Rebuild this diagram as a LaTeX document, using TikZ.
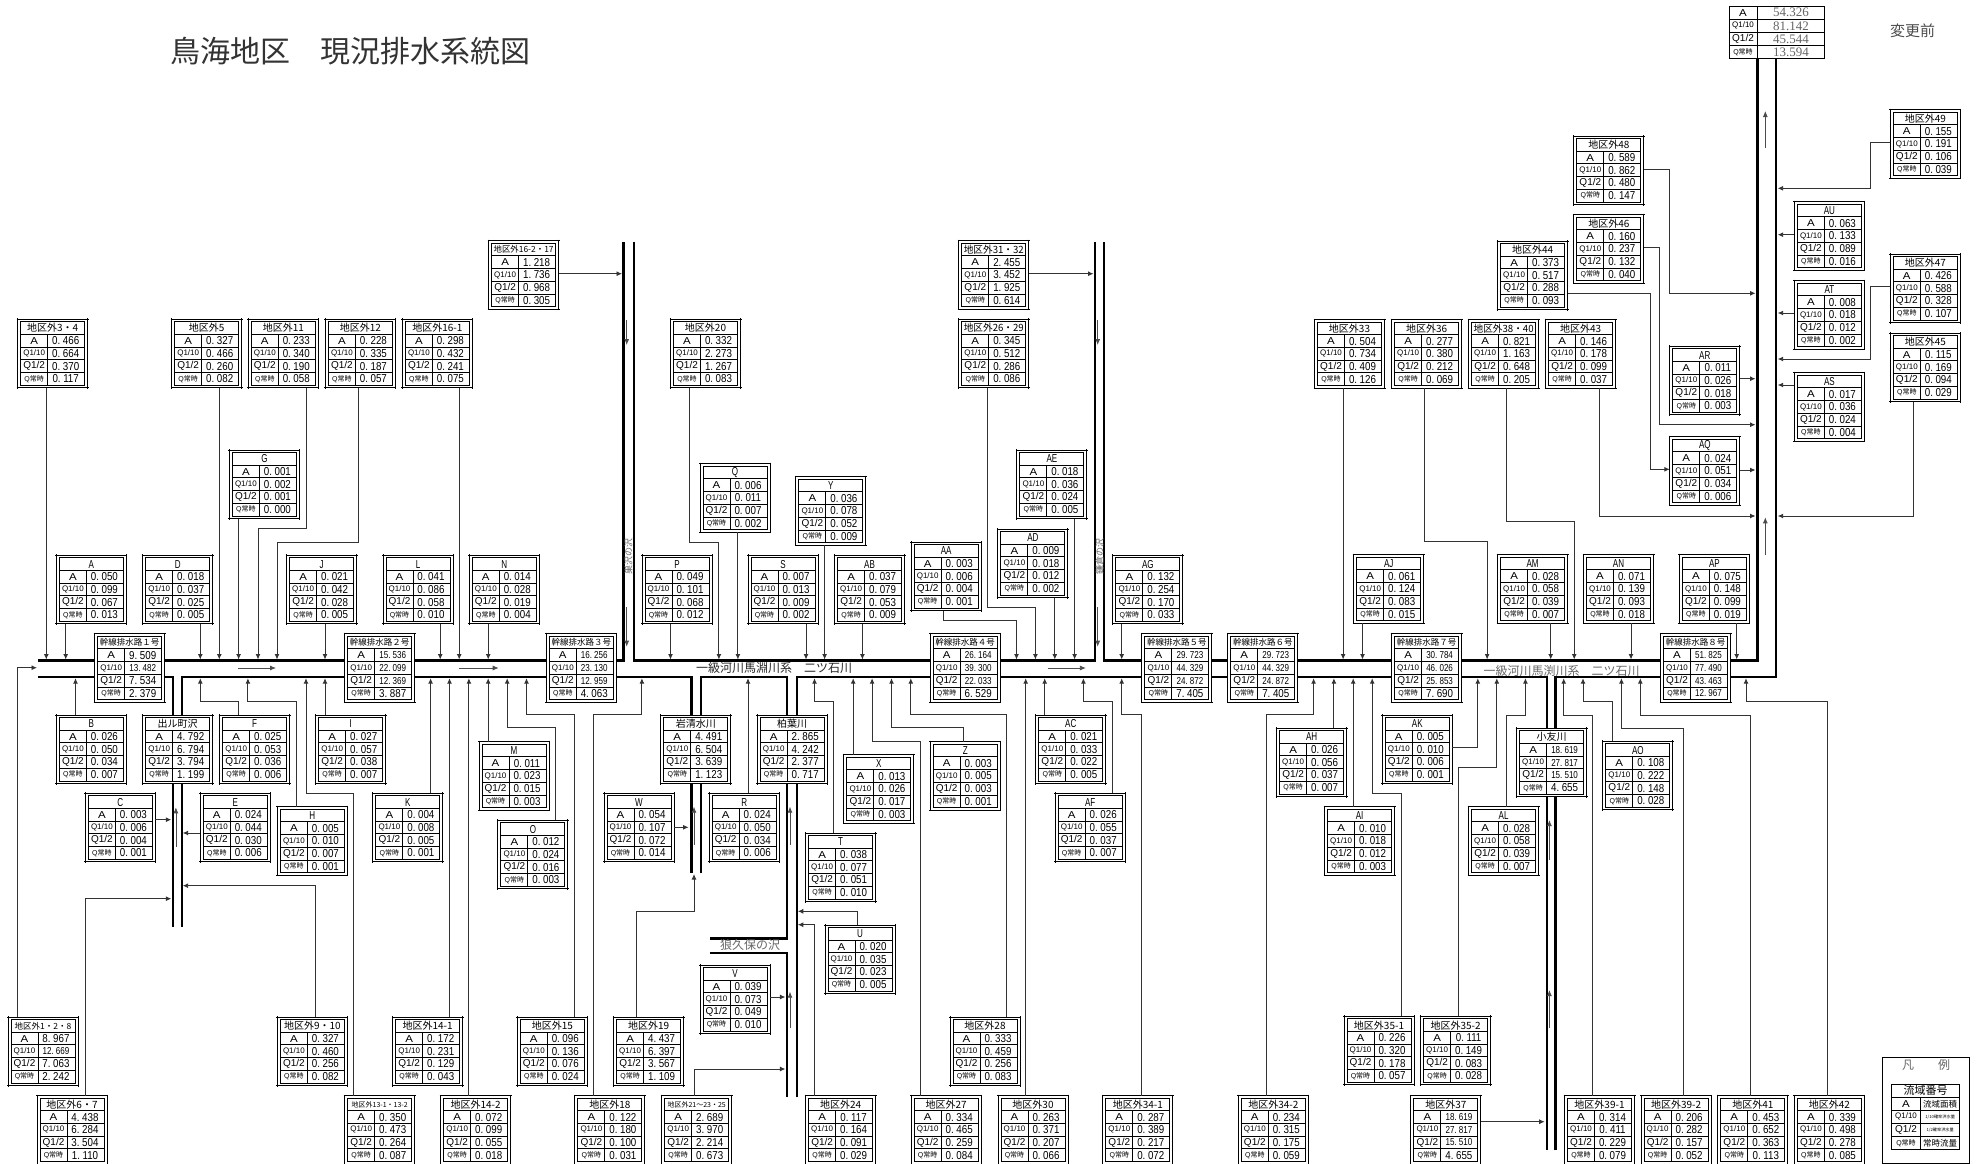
\documentclass[tikz,border=0pt]{standalone}
\usepackage{fontspec}
\usepackage{graphicx}
\usetikzlibrary{arrows.meta,calc}
\setmainfont{Liberation Sans}
\newfontfamily\cjk{Noto Sans CJK JP}
\newfontfamily\sansf{Liberation Sans}
\newfontfamily\serf{Liberation Serif}
\newcommand\fs[1]{\fontsize{#1}{#1}\selectfont}
\newsavebox\tbx
\newcommand\fitw[2]{\sbox\tbx{#2}\pgfmathsetmacro\rrx{min(1,#1/\the\wd\tbx)}\scalebox{\rrx}[1]{\usebox\tbx}}
\newcommand\ttl[1]{\fitw{60}{\cjk\fs{10}#1}}
\newcommand\ttm[1]{\fitw{60}{\cjk\fs{8.5}#1}}
\newcommand\tts[1]{\fitw{60}{\cjk\fs{7}#1}}
\newcommand\ltr[1]{\scalebox{.7}[1]{\sansf\fs{11.5}#1}}
\def\valsplit#1.#2\relax{#1.\kern3pt #2}
\newcommand\vc[1]{\sbox\tbx{\sansf\fs{11.5}\valsplit#1\relax}\ifdim\wd\tbx>35pt \scalebox{.7}[.88]{\usebox\tbx}\else\scalebox{.85}[1]{\usebox\tbx}\fi}
\newcommand\lA{\scalebox{1.15}[1]{\sansf\fs{10}A}}
\newcommand\lQa{{\sansf\fs{8}Q1/10}}
\newcommand\lQb{{\sansf\fs{10}Q1/2}}
\newcommand\lQc{{\sansf\fs{7}Q\cjk 常時}}
\tikzset{
  boxn/.style={fill=white,minimum width=70pt,minimum height=68.5pt,inner sep=0pt,outer sep=0pt},
  frm/.style={draw=black,line width=.9pt},
  txt/.style={inner sep=0pt,outer sep=0pt,text=black},
  river/.style={draw=black,line width=2.5pt,miter limit=10},
  fl/.style={draw=black!80,line width=.95pt,-{Latex[length=5.5pt,width=5pt]}},
  flow/.style={draw=black!70,line width=.8pt,-{Latex[length=6pt,width=5pt]}},
  gtxt/.style={inner sep=0pt,outer sep=0pt,text=black!60},
}
% table box: name, x, y, title, A, Q1/10, Q1/2, Q常時
\newcommand\tb[8]{%
  \node[boxn,anchor=north west] (#1) at (#2,#3) {};
  \begin{scope}[shift={(#2,#3)}]
    \draw[frm] (-1,0) -- (71,0) (-1,68.5) -- (71,68.5) (0,-1) -- (0,69.5) (70,-1) -- (70,69.5);
    \draw[frm] (3,2.5) rectangle (67,66);
    \draw[frm] (3,15.2) -- (67,15.2) (3,27.9) -- (67,27.9) (3,40.6) -- (67,40.6) (3,53.3) -- (67,53.3) (30,15.2) -- (30,66);
    \node[txt] (#1-t) at (35,8.9) {#4};
    \node[txt] (#1-la) at (16.5,21.6) {\lA};
    \node[txt] (#1-lb) at (16.5,34.3) {\lQa};
    \node[txt] (#1-lc) at (16.5,47) {\lQb};
    \node[txt] (#1-ld) at (16.5,59.7) {\lQc};
    \node[txt] (#1-va) at (48,21.6) {\vc{#5}};
    \node[txt] (#1-vb) at (48,34.3) {\vc{#6}};
    \node[txt] (#1-vc) at (48,47) {\vc{#7}};
    \node[txt] (#1-vd) at (48,59.7) {\vc{#8}};
  \end{scope}}
% connectors
\newcommand\arD[2]{\draw[fl] (#1,0 |- #2.south) -- (#1,0 |- mtop);}
\newcommand\arU[2]{\draw[fl] (#1,0 |- #2.north) -- (#1,0 |- mbot);}
\newcommand\arDe[4]{\draw[fl] (#1,0 |- #2.south) |- (#4,#3) -- (#4,0 |- mtop);}
\newcommand\arUe[4]{\draw[fl] (#1,0 |- #2.north) |- (#4,#3) -- (#4,0 |- mbot);}
\begin{document}
\begin{tikzpicture}[x=1pt,y=-1pt]
\useasboundingbox (0,0) rectangle (1981,1164);
\coordinate (mtop) at (0,659.5);
\coordinate (mbot) at (0,678.2);
% title
\node[txt,text=black!80,anchor=west] (ttitle) at (170,51.5) {\cjk\fs{30}鳥海地区　現況排水系統図};
\node[txt,text=black!70,anchor=west] (tchg) at (1890,30.7) {\cjk\fs{15}変更前};
% rivers
\draw[river] (38,660.7) -- (623.7,660.7) -- (623.7,242);
\draw[river] (633.8,242) -- (633.8,660.7) -- (1095.2,660.7) -- (1095.2,242);
\draw[river] (1104,242) -- (1104,660.7) -- (1757.3,660.7) -- (1757.3,58.7);
\draw[river] (38,677) -- (173,677) -- (173,926.7);
\draw[river] (181.8,926.7) -- (181.8,677) -- (691.6,677) -- (691.6,873.3);
\draw[river] (700.8,873.3) -- (700.8,677) -- (787,677) -- (787,938.3) -- (710,938.3);
\draw[river] (710,953) -- (787,953) -- (787,1097.3);
\draw[river] (796.8,1097.3) -- (796.8,677) -- (1546.9,677) -- (1546.9,1150);
\draw[river] (1555.3,1150) -- (1555.3,677) -- (1776.2,677) -- (1776.2,58.7);
% river labels
\node[gtxt,text=black!85] (lmain1) at (774,668.3) {\cjk\fs{12}一級河川馬淵川系　二ツ石川};
\node[gtxt] (lmain2) at (1561.5,670.7) {\cjk\fs{12}一級河川馬渕川系　二ツ石川};
\node[gtxt] (loku) at (750,945) {\cjk\fs{12}狼久保の沢};
\node[gtxt,rotate=90] (lv1) at (628.5,556) {\cjk\fs{9}巣沢の沢};
\node[gtxt,rotate=90] (lv2) at (1099.6,556) {\cjk\fs{9}鎌倉の沢};
% boxes
\tb{b34}{17.7}{319.3}{\ttl{地区外3・4}}{0.466}{0.664}{0.370}{0.117}
\tb{b5}{171.7}{319.3}{\ttl{地区外5}}{0.327}{0.466}{0.260}{0.082}
\tb{b11}{248.3}{319.3}{\ttl{地区外11}}{0.233}{0.340}{0.190}{0.058}
\tb{b12}{325.4}{319.3}{\ttl{地区外12}}{0.228}{0.335}{0.187}{0.057}
\tb{b161}{402.4}{319.3}{\ttl{地区外16-1}}{0.298}{0.432}{0.241}{0.075}
\tb{b1617}{488.6}{240.7}{\ttm{地区外16-2・17}}{1.218}{1.736}{0.968}{0.305}
\tb{nG}{229.4}{450}{\ltr{G}}{0.001}{0.002}{0.001}{0.000}
\tb{nA}{56.4}{555.3}{\ltr{A}}{0.050}{0.099}{0.067}{0.013}
\tb{nD}{142.7}{555.3}{\ltr{D}}{0.018}{0.037}{0.025}{0.005}
\tb{nJ}{286.6}{555.3}{\ltr{J}}{0.021}{0.042}{0.028}{0.005}
\tb{nL}{383}{555.3}{\ltr{L}}{0.041}{0.086}{0.058}{0.010}
\tb{nN}{469.3}{555.3}{\ltr{N}}{0.014}{0.028}{0.019}{0.004}
\tb{t1}{94.7}{633.7}{\ttm{幹線排水路１号}}{9.509}{13.482}{7.534}{2.379}
\tb{t2}{344.7}{633.7}{\ttm{幹線排水路２号}}{15.536}{22.099}{12.369}{3.887}
\tb{t3}{546.3}{633.7}{\ttm{幹線排水路３号}}{16.256}{23.130}{12.959}{4.063}
\tb{nB}{56.4}{715}{\ltr{B}}{0.026}{0.050}{0.034}{0.007}
\tb{rd}{142.7}{715}{\ttl{出ル町沢}}{4.792}{6.794}{3.794}{1.199}
\tb{nF}{219.7}{715}{\ltr{F}}{0.025}{0.053}{0.036}{0.006}
\tb{nI}{315.7}{715}{\ltr{I}}{0.027}{0.057}{0.038}{0.007}
\tb{nM}{479}{741.7}{\ltr{M}}{0.011}{0.023}{0.015}{0.003}
\tb{nC}{85.4}{793.3}{\ltr{C}}{0.003}{0.006}{0.004}{0.001}
\tb{nE}{200.3}{793.3}{\ltr{E}}{0.024}{0.044}{0.030}{0.006}
\tb{nK}{372.9}{793.3}{\ltr{K}}{0.004}{0.008}{0.005}{0.001}
\tb{nH}{277.4}{806.7}{\ltr{H}}{0.005}{0.010}{0.007}{0.001}
\tb{nO}{497.9}{820.3}{\ltr{O}}{0.012}{0.024}{0.016}{0.003}
\tb{nW}{604}{793.3}{\ltr{W}}{0.054}{0.107}{0.072}{0.014}
\tb{b128}{8}{1017}{\ttm{地区外1・2・8}}{8.967}{12.669}{7.063}{2.242}
\tb{b910}{277.4}{1017}{\ttl{地区外9・10}}{0.327}{0.460}{0.256}{0.082}
\tb{b141}{392.7}{1017}{\ttl{地区外14-1}}{0.172}{0.231}{0.129}{0.043}
\tb{b15}{517.3}{1017}{\ttl{地区外15}}{0.096}{0.136}{0.076}{0.024}
\tb{b19}{613.6}{1017}{\ttl{地区外19}}{4.437}{6.397}{3.567}{1.109}
\tb{b67}{37}{1095.5}{\ttl{地区外6・7}}{4.438}{6.284}{3.504}{1.110}
\tb{b1313}{344.7}{1095.5}{\tts{地区外13-1・13-2}}{0.350}{0.473}{0.264}{0.087}
\tb{b142}{440.7}{1095.5}{\ttl{地区外14-2}}{0.072}{0.099}{0.055}{0.018}
\tb{b18}{574.9}{1095.5}{\ttl{地区外18}}{0.122}{0.180}{0.100}{0.031}
\tb{b20}{670.5}{319.3}{\ttl{地区外20}}{0.332}{2.273}{1.267}{0.083}
\tb{b2629}{958.8}{319.3}{\ttl{地区外26・29}}{0.345}{0.512}{0.286}{0.086}
\tb{b3132}{958.8}{240.7}{\ttl{地区外31・32}}{2.455}{3.452}{1.925}{0.614}
\tb{nAE}{1016.9}{450}{\ltr{AE}}{0.018}{0.036}{0.024}{0.005}
\tb{nQ}{700}{463.7}{\ltr{Q}}{0.006}{0.011}{0.007}{0.002}
\tb{nY}{795.9}{476.7}{\ltr{Y}}{0.036}{0.078}{0.052}{0.009}
\tb{nAD}{997.9}{529}{\ltr{AD}}{0.009}{0.018}{0.012}{0.002}
\tb{nAA}{911.2}{542}{\ltr{AA}}{0.003}{0.006}{0.004}{0.001}
\tb{nP}{642}{555.3}{\ltr{P}}{0.049}{0.101}{0.068}{0.012}
\tb{nS}{748}{555.3}{\ltr{S}}{0.007}{0.013}{0.009}{0.002}
\tb{nAB}{834.6}{555.3}{\ltr{AB}}{0.037}{0.079}{0.053}{0.009}
\tb{nAG}{1112.9}{555.3}{\ltr{AG}}{0.132}{0.254}{0.170}{0.033}
\tb{t4}{930.2}{633.7}{\ttm{幹線排水路４号}}{26.164}{39.300}{22.033}{6.529}
\tb{t5}{1141.9}{633.7}{\ttm{幹線排水路５号}}{29.723}{44.329}{24.872}{7.405}
\tb{t6}{1227.8}{633.7}{\ttm{幹線排水路６号}}{29.723}{44.329}{24.872}{7.405}
\tb{ri}{660.8}{715}{\ttl{岩清水川}}{4.491}{6.504}{3.639}{1.123}
\tb{rk}{757.2}{715}{\ttl{柏葉川}}{2.865}{4.242}{2.377}{0.717}
\tb{nAC}{1035.8}{715}{\ltr{AC}}{0.021}{0.033}{0.022}{0.005}
\tb{nX}{843.9}{754.7}{\ltr{X}}{0.013}{0.026}{0.017}{0.003}
\tb{nZ}{930.2}{741.7}{\ltr{Z}}{0.003}{0.005}{0.003}{0.001}
\tb{nAH}{1276.6}{728}{\ltr{AH}}{0.026}{0.056}{0.037}{0.007}
\tb{nR}{709.2}{793.3}{\ltr{R}}{0.024}{0.050}{0.034}{0.006}
\tb{nAF}{1055.2}{793.3}{\ltr{AF}}{0.026}{0.055}{0.037}{0.007}
\tb{nT}{805.6}{833}{\ltr{T}}{0.038}{0.077}{0.051}{0.010}
\tb{nU}{825}{925}{\ltr{U}}{0.020}{0.035}{0.023}{0.005}
\tb{nV}{700}{965}{\ltr{V}}{0.039}{0.073}{0.049}{0.010}
\tb{b28}{950}{1017}{\ttl{地区外28}}{0.333}{0.459}{0.256}{0.083}
\tb{b2125}{661.7}{1095.5}{\tts{地区外21～23・25}}{2.689}{3.970}{2.214}{0.673}
\tb{b24}{805.6}{1095.5}{\ttl{地区外24}}{0.117}{0.164}{0.091}{0.029}
\tb{b27}{911.2}{1095.5}{\ttl{地区外27}}{0.334}{0.465}{0.259}{0.084}
\tb{b30}{998}{1095.5}{\ttl{地区外30}}{0.263}{0.371}{0.207}{0.066}
\tb{b341}{1102.8}{1095.5}{\ttl{地区外34-1}}{0.287}{0.389}{0.217}{0.072}
\tb{b342}{1238.3}{1095.5}{\ttl{地区外34-2}}{0.234}{0.315}{0.175}{0.059}
\tb{b48}{1573.8}{136}{\ttl{地区外48}}{0.589}{0.862}{0.480}{0.147}
\tb{b46}{1573.8}{214.7}{\ttl{地区外46}}{0.160}{0.237}{0.132}{0.040}
\tb{b44}{1497.6}{241}{\ttl{地区外44}}{0.373}{0.517}{0.288}{0.093}
\tb{b49}{1890.3}{109.7}{\ttl{地区外49}}{0.155}{0.191}{0.106}{0.039}
\tb{nAU}{1794.4}{201.7}{\ltr{AU}}{0.063}{0.133}{0.089}{0.016}
\tb{b47}{1890.3}{254}{\ttl{地区外47}}{0.426}{0.588}{0.328}{0.107}
\tb{nAT}{1794.4}{280.7}{\ltr{AT}}{0.008}{0.018}{0.012}{0.002}
\tb{b45}{1890.3}{333}{\ttl{地区外45}}{0.115}{0.169}{0.094}{0.029}
\tb{nAS}{1794.4}{372.7}{\ltr{AS}}{0.017}{0.036}{0.024}{0.004}
\tb{nAR}{1669.8}{346.3}{\ltr{AR}}{0.011}{0.026}{0.018}{0.003}
\tb{nAQ}{1669.8}{436.7}{\ltr{AQ}}{0.024}{0.051}{0.034}{0.006}
\tb{b33}{1314.5}{319.5}{\ttl{地区外33}}{0.504}{0.734}{0.409}{0.126}
\tb{b36}{1391.6}{319.5}{\ttl{地区外36}}{0.277}{0.380}{0.212}{0.069}
\tb{b3840}{1468.6}{319.5}{\ttl{地区外38・40}}{0.821}{1.163}{0.648}{0.205}
\tb{b43}{1545.6}{319.5}{\ttl{地区外43}}{0.146}{0.178}{0.099}{0.037}
\tb{nAJ}{1353.7}{554.7}{\ltr{AJ}}{0.061}{0.124}{0.083}{0.015}
\tb{nAM}{1497.6}{554.7}{\ltr{AM}}{0.028}{0.058}{0.039}{0.007}
\tb{nAN}{1583.5}{554.7}{\ltr{AN}}{0.071}{0.139}{0.093}{0.018}
\tb{nAP}{1679.4}{554.7}{\ltr{AP}}{0.075}{0.148}{0.099}{0.019}
\tb{t7}{1391.6}{633.7}{\ttm{幹線排水路７号}}{30.784}{46.026}{25.853}{7.690}
\tb{t8}{1660.5}{633.7}{\ttm{幹線排水路８号}}{51.825}{77.490}{43.463}{12.967}
\tb{nAK}{1382.3}{715}{\ltr{AK}}{0.005}{0.010}{0.006}{0.001}
\tb{ro}{1516.6}{728.3}{\ttl{小友川}}{18.619}{27.817}{15.510}{4.655}
\tb{nAO}{1602.8}{741.3}{\ltr{AO}}{0.108}{0.222}{0.148}{0.028}
\tb{nAI}{1324.6}{806.7}{\ltr{AI}}{0.010}{0.018}{0.012}{0.003}
\tb{nAL}{1468.6}{806.7}{\ltr{AL}}{0.028}{0.058}{0.039}{0.007}
\tb{b351}{1344}{1016.3}{\ttl{地区外35-1}}{0.226}{0.320}{0.178}{0.057}
\tb{b352}{1420.6}{1016.3}{\ttl{地区外35-2}}{0.111}{0.149}{0.083}{0.028}
\tb{b37}{1410.9}{1095.5}{\ttl{地区外37}}{18.619}{27.817}{15.510}{4.655}
\tb{b391}{1564.5}{1095.5}{\ttl{地区外39-1}}{0.314}{0.411}{0.229}{0.079}
\tb{b392}{1641.1}{1095.5}{\ttl{地区外39-2}}{0.206}{0.282}{0.157}{0.052}
\tb{b41}{1717.8}{1095.5}{\ttl{地区外41}}{0.453}{0.652}{0.363}{0.113}
\tb{b42}{1794.4}{1095.5}{\ttl{地区外42}}{0.339}{0.498}{0.278}{0.085}
% outlet table
\node[fill=white,draw=black,line width=.9pt,minimum width=95.6pt,minimum height=52.7pt,inner sep=0pt,outer sep=0pt,anchor=north west] (outlet) at (1729,6) {};
\draw[frm] (1729,19.2) -- (1824.6,19.2) (1729,32.3) -- (1824.6,32.3) (1729,45.5) -- (1824.6,45.5) (1757.7,6) -- (1757.7,58.7);
\node[txt] (o-la) at (1743,12.6) {\lA};
\node[txt] (o-lb) at (1743,25.8) {\lQa};
\node[txt] (o-lc) at (1743,38.9) {\lQb};
\node[txt] (o-ld) at (1743,52.1) {\lQc};
\node[gtxt] (o-va) at (1791,12.6) {\serf\fs{13}54.326};
\node[gtxt] (o-vb) at (1791,25.8) {\serf\fs{13}81.142};
\node[gtxt] (o-vc) at (1791,38.9) {\serf\fs{13}45.544};
\node[gtxt] (o-vd) at (1791,52.1) {\serf\fs{13}13.594};
% connectors: top of main channel
\arD{46.3}{b34}
\arD{65.7}{nA}
\arD{200.3}{nD}
\arD{219.3}{b5}
\arD{238.6}{nG}
\arDe{306}{b11}{528.7}{258}
\arDe{358.6}{b12}{542}{277}
\arD{325}{nJ}
\arD{440.2}{nL}
\arD{459.2}{b161}
\arD{488.2}{nN}
\arD{670.5}{nP}
\arDe{689.9}{b20}{542}{718.9}
\arD{737.9}{nQ}
\arD{806}{nS}
\arD{824.6}{nY}
\arD{862.4}{nAB}
\arDe{943.7}{nAA}{620.7}{1016.5}
\arDe{987.4}{b2629}{607.3}{1035.4}
\arD{1054.8}{nAD}
\arD{1074.6}{nAE}
\arD{1121.7}{nAG}
\arD{1343.1}{b33}
\arD{1362.5}{nAJ}
\arDe{1424.4}{b36}{541.7}{1487.1}
\arD{1550.7}{nAM}
\arDe{1506}{b3840}{521}{1574.2}
\arD{1631}{nAN}
\arD{1736.7}{nAP}
% connectors: bottom of main channel
\arU{75.5}{nB}
\arUe{238.6}{nF}{701.7}{200.3}
\arUe{296.3}{nH}{701.7}{247.9}
\arUe{353.5}{b1313}{793.3}{306}
\arU{325}{nI}
\arU{430.6}{nK}
\arU{449.5}{b141}
\arU{468.9}{b142}
\arU{488.2}{nM}
\arUe{555.6}{nO}{727.7}{507.2}
\arUe{574.5}{b15}{714.5}{526.5}
\arUe{593.9}{b18}{714.5}{641.9}
\arU{748}{nR}
\arUe{833.8}{nT}{701.7}{814.5}
\arU{853.2}{nX}
\arUe{920.5}{b27}{741}{872.1}
\arUe{963}{nZ}{727.7}{891.5}
\arUe{1006.8}{b28}{714.5}{910.8}
\arU{1025.7}{b30}
\arU{1044.7}{nAC}
\arUe{1112.4}{nAF}{701.7}{1083.4}
\arUe{1141}{b341}{714.5}{1121.7}
\arUe{1266.5}{b342}{714.5}{1313.6}
\arU{1333.9}{nAH}
\arU{1353.2}{nAI}
\arUe{1401.2}{b351}{793.3}{1372.2}
\draw[fl] (nAK.east |- 0,747.3) -| (1477.8,0 |- mbot);
\arUe{1458.5}{b352}{767.3}{1496.8}
\arUe{1506.5}{nAL}{715}{1525.4}
\arUe{1592.7}{b391}{715}{1563.7}
\arUe{1612.1}{nAO}{701.7}{1583}
\arUe{1683.7}{b392}{728}{1621.4}
\arUe{1750.6}{b41}{715}{1640.3}
\arUe{1827.2}{b42}{701.7}{1746}
% side connectors
\draw[fl] (b128.north -| 17.7,0) |- (37,667.7);
\draw[fl] (nC.east |- 0,819.7) -- (171.3,819.7);
\draw[fl] (nE.west |- 0,833) -- (182.7,833);
\draw[fl] (b910.north -| 315.7,0) |- (182.7,885.7);
\draw[fl] (b67.north -| 85,0) |- (171.3,898.7);
\draw[fl] (nW.east |- 0,827.3) -- (688.6,827.3);
\draw[fl] (b19.north -| 636.8,0) |- (694,911.3) -- (694,874);
\draw[fl] (nU.north -| 857.4,0) |- (797.8,911.3);
\draw[fl] (b24.north -| 814.5,0) |- (797.8,924.7);
\draw[fl] (nV.east |- 0,997) -- (785.4,997);
\draw[fl] (b2125.north -| 694,0) |- (785.4,1069);
\draw[fl] (b1617.east |- 0,273.7) -- (622,273.7);
\draw[fl] (b3132.east |- 0,273.7) -- (1093.5,273.7);
\draw[fl] (b48.east |- 0,169) -| (1669.4,293.3) -- (1755.5,293.3);
\draw[fl] (b46.east |- 0,247.3) -| (1659.7,424.7) -- (1755.5,424.7);
\draw[fl] (b44.east |- 0,293.3) -| (1650.4,469.3) -- (nAQ.west |- 0,469.3);
\draw[fl] (b43.south -| 1599,0) |- (1755.5,516);
\draw[fl] (b45.south -| 1913.5,0) |- (1777.7,516);
\draw[fl] (b49.west |- 0,142.3) -| (1870.5,188.3) -- (1777.7,188.3);
\draw[fl] (nAU.west |- 0,234.7) -- (1777.7,234.7);
\draw[fl] (nAT.west |- 0,313) -- (1777.7,313);
\draw[fl] (b47.west |- 0,286.7) -| (1870.5,359) -- (1777.7,359);
\draw[fl] (nAS.west |- 0,385) -- (1777.7,385);
\draw[fl] (nAR.east |- 0,378.7) -- (1755.5,378.7);
\draw[fl] (nAQ.east |- 0,470) -- (1755.5,470);
\draw[fl] (b37.east |- 0,1121.7) -- (1544.7,1121.7);
% flow arrows
\draw[flow] (238,668) -- (276,668);
\draw[flow] (458.7,668) -- (498.7,668);
\draw[flow] (1047.6,668) -- (1085.9,668);
\draw[flow] (626.7,320) -- (626.7,345);
\draw[flow] (626.7,607.3) -- (626.7,646.7);
\draw[flow] (1097.7,320) -- (1097.7,345);
\draw[flow] (1097.7,607.3) -- (1097.7,646.7);
\draw[flow] (175.9,846.7) -- (175.9,807.3);
\draw[flow] (694,845) -- (694,806.7);
\draw[flow] (790,845) -- (790,806.7);
\draw[flow] (790,1028.3) -- (790,991.7);
\draw[flow] (1765.3,148) -- (1765.3,111);
\draw[flow] (1765.3,555) -- (1765.3,517.3);
\draw[flow] (1549.4,1028.3) -- (1549.4,990);
\draw[flow] (1549.4,860) -- (1549.4,820);
% legend
\node[draw=black,line width=.9pt,minimum width=86.7pt,minimum height=105.4pt,inner sep=0pt,anchor=north west] (leg) at (1881.9,1057.3) {};
\node[gtxt] (leg-a) at (1908,1065) {\cjk\fs{12}凡};
\node[gtxt] (leg-b) at (1944,1065) {\cjk\fs{12}例};
\draw[frm] (1891.6,1084.3) rectangle (1959.8,1149.3);
\draw[frm] (1891.6,1097.3) -- (1959.8,1097.3) (1891.6,1110.3) -- (1959.8,1110.3) (1891.6,1123.3) -- (1959.8,1123.3) (1891.6,1136.3) -- (1959.8,1136.3) (1920.6,1097.3) -- (1920.6,1149.3);
\node[txt] (leg-t) at (1925.7,1090.8) {\cjk\fs{11}流域番号};
\node[txt] (leg-la) at (1906,1103.8) {\lA};
\node[txt] (leg-lb) at (1906,1116.8) {\lQa};
\node[txt] (leg-lc) at (1906,1129.8) {\lQb};
\node[txt] (leg-ld) at (1906,1142.8) {\lQc};
\node[txt] (leg-va) at (1940.2,1103.8) {\cjk\fs{8.5}流域面積};
\node[txt] (leg-vb) at (1940.2,1116.8) {\cjk\fs{4.2}1/10確率洪水量};
\node[txt] (leg-vc) at (1940.2,1129.8) {\cjk\fs{4.2}1/2確率洪水量};
\node[txt] (leg-vd) at (1940.2,1142.8) {\cjk\fs{8.5}常時流量};
\end{tikzpicture}
\end{document}
